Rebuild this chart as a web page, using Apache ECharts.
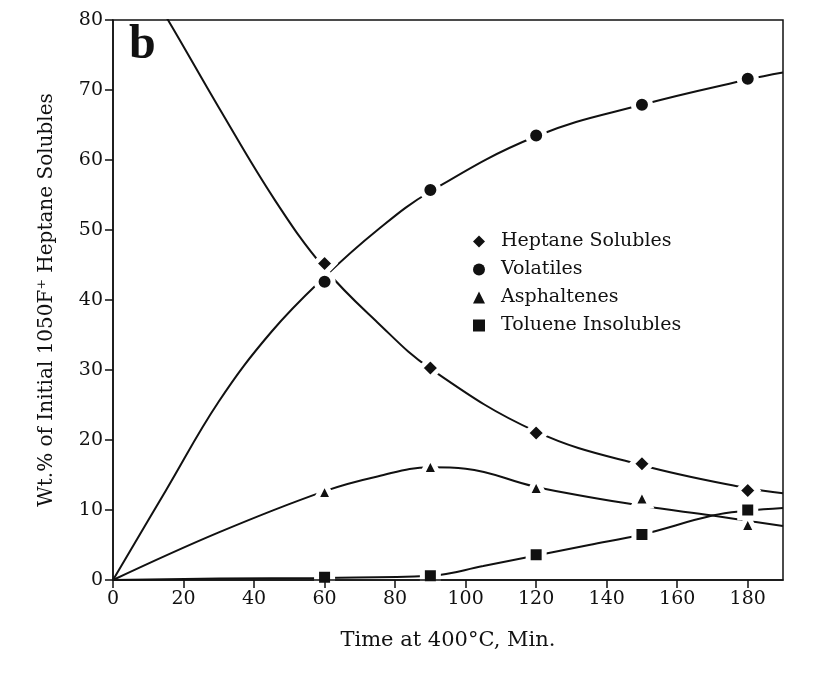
<!DOCTYPE html>
<html>
<head>
	<meta charset="UTF-8">
	<title>Wt.% vs Time at 400°C</title>
    <style>
        html, body {margin: 0; padding: 0; background: #fff;}
        #chart {width: 813px; height: 694px;}
    </style>
</head>
<body>
	<div id="chart"></div>
	<script type="text/javascript" src="https://cdn.jsdelivr.net/npm/echarts@6/dist/echarts.min.js"></script>
    <script type="text/javascript">
        // measured points (time in min, wt.%)
        var heptanePts = [[60, 45.2], [90, 30.3], [120, 21.0], [150, 16.6], [180, 12.8]];
        var volatilePts = [[60, 42.6], [90, 55.7], [120, 63.5], [150, 67.9], [180, 71.6]];
        var asphaltenePts = [[60, 12.7], [90, 16.3], [120, 13.3], [150, 11.8], [180, 8.0]];
        var toluenePts = [[60, 0.4], [90, 0.6], [120, 3.6], [150, 6.5], [180, 10.0]];

        // fitted curves
        var heptaneCurve = [[0, 93], [15.6, 80], [30, 67.5], [46, 54.2], [60, 44.5], [75, 36.8], [90, 30.2], [120, 21.2], [150, 16.4], [180, 13.1], [190, 12.4]];
        var volatileCurve = [[0, 0], [15, 12.8], [30, 25.5], [45, 35.5], [60, 43.3], [75, 50], [90, 55.5], [120, 63.4], [150, 67.9], [180, 71.5], [190, 72.5]];
        var asphaltCurve = [[0, 0], [30, 6.8], [60, 12.7], [75, 14.8], [90, 16.1], [100, 15.9], [120, 13.3], [150, 10.6], [170, 9.2], [190, 7.7]];
        var tolueneCurve = [[0, 0], [30, 0.2], [60, 0.3], [90, 0.6], [105, 2.0], [120, 3.5], [135, 5.0], [150, 6.5], [170, 9.2], [180, 9.9], [190, 10.3]];

        var seriesNames = ['Heptane Solubles', 'Volatiles', 'Asphaltenes', 'Toluene Insolubles'];
        var symbols = ['diamond', 'circle', 'triangle', 'rect'];
        // outer size incl. white halo (halo = border width)
        var symbolSizes = [20, 17, 17, 16];

        var font = 'DejaVu Serif';
        var ink = '#111';

        var pts = [heptanePts, volatilePts, asphaltenePts, toluenePts];
        var curves = [heptaneCurve, volatileCurve, asphaltCurve, tolueneCurve];

        var series = [];
        for (var i = 0; i < curves.length; i++) {
            series.push({
                name: 'curve' + i,
                type: 'line',
                data: curves[i],
                smooth: 0.4,
                showSymbol: false,
                silent: true,
                lineStyle: {color: ink, width: 2},
                z: 2
            });
        }
        for (var i = 0; i < pts.length; i++) {
            series.push({
                name: seriesNames[i],
                type: 'scatter',
                data: pts[i],
                symbol: symbols[i],
                symbolSize: symbolSizes[i],
                itemStyle: {color: ink, opacity: 1, borderColor: '#fff', borderWidth: 5},
                z: 3
            });
        }

        var dom = document.getElementById("chart");
        var myChart = echarts.init(dom);
        var option = {
            animation: false,
            backgroundColor: '#fff',
            textStyle: {fontFamily: font, color: ink},
            grid: {
                left: 113, top: 20, width: 670, height: 560,
                show: true, borderColor: ink, borderWidth: 1.5
            },
            legend: {
                data: seriesNames.map(function (n, k) { return {name: n, icon: symbols[k]}; }),
                orient: 'vertical',
                left: 468, top: 227,
                itemWidth: 12, itemHeight: 12,
                itemGap: 9,
                itemStyle: {color: ink, opacity: 1, borderWidth: 0},
                textStyle: {fontFamily: font, fontSize: 19, color: ink, padding: [0, 0, 0, 11]}
            },
            xAxis: {
                type: 'value',
                min: 0, max: 190, interval: 20,
                z: 10,
                name: 'Time at 400°C, Min.',
                nameLocation: 'middle',
                nameGap: 50,
                nameTextStyle: {fontFamily: font, fontSize: 21, color: ink},
                axisLine: {show: true, lineStyle: {color: ink, width: 1.5}},
                axisTick: {show: true, length: 8, lineStyle: {color: ink, width: 1.5}},
                axisLabel: {fontFamily: font, fontSize: 19, color: ink, margin: 10, showMaxLabel: false},
                splitLine: {show: false}
            },
            yAxis: {
                type: 'value',
                min: 0, max: 80, interval: 10,
                z: 10,
                name: 'Wt.% of Initial 1050F⁺ Heptane Solubles',
                nameLocation: 'middle',
                nameGap: 56,
                nameTextStyle: {fontFamily: font, fontSize: 20, color: ink},
                axisLine: {show: true, lineStyle: {color: ink, width: 1.5}},
                axisTick: {show: true, length: 8, lineStyle: {color: ink, width: 1.5}},
                axisLabel: {fontFamily: font, fontSize: 19, color: ink, margin: 10},
                splitLine: {show: false}
            },
            graphic: [{
                type: 'text',
                left: 129, top: 22,
                style: {text: 'b', fontFamily: 'Liberation Serif', fontSize: 48, fontWeight: 'bold', fill: ink}
            }],
            series: series
        };
        myChart.setOption(option, true);
    </script>
</body>
</html>
